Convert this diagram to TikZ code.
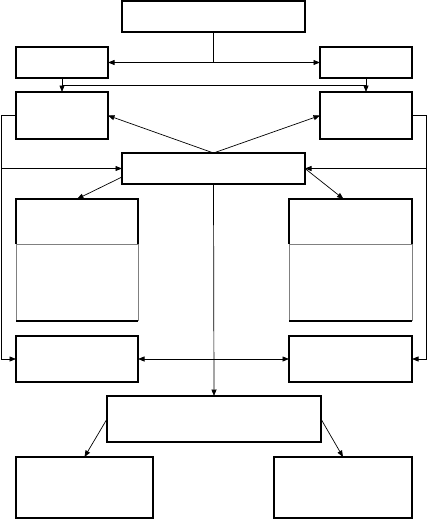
\documentclass[tikz,border=0pt]{standalone}
\usetikzlibrary{arrows.meta}
\begin{document}
\begin{tikzpicture}[x=1pt,y=-1pt,
  box/.style={draw,line width=1.4pt,anchor=north west,inner sep=0pt,outer sep=0pt},
  part/.style={anchor=north west,inner sep=0pt,outer sep=0pt},
  arr/.style={line width=0.7pt,-{Triangle[length=6.5pt,width=5pt]}},
  dbl/.style={line width=0.7pt,{Triangle[length=6.5pt,width=5pt]}-{Triangle[length=6.5pt,width=5pt]}},
  ln/.style={line width=0.7pt},
  thin/.style={gray,line width=0.6pt},
  thick/.style={line width=1.4pt}]
\useasboundingbox (0,0) rectangle (427,519);
% nodes
\node[box,minimum width=183pt,minimum height=31pt] (T) at (122,1) {};
\node[box,minimum width=92pt,minimum height=31pt] (L1) at (16,47) {};
\node[box,minimum width=92pt,minimum height=31pt] (R1) at (320,47) {};
\node[box,minimum width=92pt,minimum height=47pt] (L2) at (16,92) {};
\node[box,minimum width=92pt,minimum height=47pt] (R2) at (320,92) {};
\node[box,minimum width=183pt,minimum height=31pt] (C) at (122,153) {};
\node[part,minimum width=122pt,minimum height=45pt] (L4) at (16,199) {};
\node[part,minimum width=123pt,minimum height=45pt] (R4) at (289,199) {};
\node[part,minimum width=122pt,minimum height=77pt] (L5) at (16,244) {};
\node[part,minimum width=123pt,minimum height=77pt] (R5) at (289,244) {};
\node[box,minimum width=122pt,minimum height=46pt] (L3) at (16,336) {};
\node[box,minimum width=123pt,minimum height=46pt] (R3) at (289,336) {};
\node[box,minimum width=214pt,minimum height=46pt] (B) at (107,396) {};
\node[box,minimum width=137pt,minimum height=61pt] (BL) at (16,457) {};
\node[box,minimum width=138pt,minimum height=61pt] (BR) at (274,457) {};
\coordinate (h) at (0,85);
\coordinate (lx) at (1,0);
\coordinate (rx) at (426,0);
\coordinate (cl) at (122,177);
% tall boxes: thick upper part, thin lower part, thick bottom
\draw[thin] (L5.north west) -- (L5.south west) (L5.north east) -- (L5.south east) (L4.south west) -- (L4.south east);
\draw[thin] (R5.north west) -- (R5.south west) (R5.north east) -- (R5.south east) (R4.south west) -- (R4.south east);
\draw[thick] (L4.south west) -- (L4.north west) -- (L4.north east) -- (L4.south east);
\draw[thick] (R4.south west) -- (R4.north west) -- (R4.north east) -- (R4.south east);
\draw[thick] (L5.south west) -- (L5.south east);
\draw[thick] (R5.south west) -- (R5.south east);
% connectors
\draw[arr] (T.south) |- (L1.east);
\draw[arr] (T.south) |- (R1.west);
\draw[arr] (L1.south) -- (L2.north);
\draw[arr] (R1.south) -- (R2.north);
\draw[ln] (L1.south |- h) -- (R1.south |- h);
\draw[arr] (C.north) -- (L2.east);
\draw[arr] (C.north) -- (R2.west);
\draw[arr] (L2.west) -- (L2.west -| lx) |- (L3.west);
\draw[arr] (C.west -| lx) -- (C.west);
\draw[arr] (R2.east) -- (R2.east -| rx) |- (R3.east);
\draw[arr] (C.east -| rx) -- (C.east);
\draw[arr] (cl) -- (L4.north);
\draw[arr] (C.east) -- ([xshift=-7pt]R4.north);
\draw[arr] (C.south) -- (B.north);
\draw[dbl] (L3.east) -- (R3.west);
\draw[arr] (B.west) -- (BL.north);
\draw[arr] (B.east) -- (BR.north);
\end{tikzpicture}
\end{document}
